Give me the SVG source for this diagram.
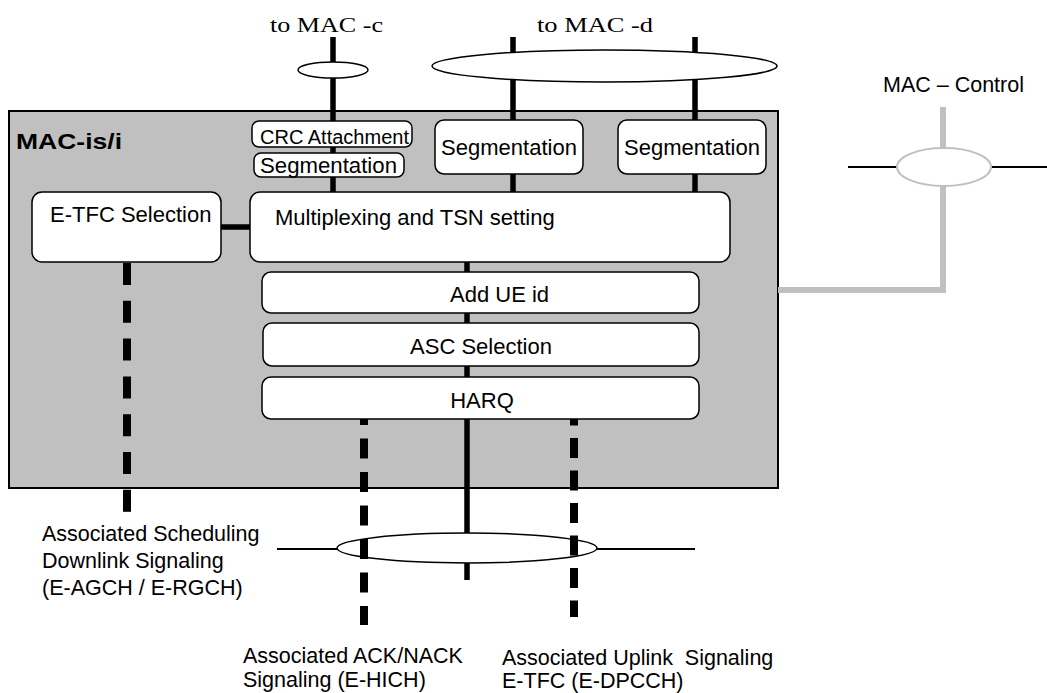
<svg xmlns="http://www.w3.org/2000/svg" width="1047" height="693" viewBox="0 0 1047 693">
<style>
.t{font-family:"Liberation Sans",Arial,sans-serif;font-size:22px;fill:#000}
.s20{font-size:20px}
.s21{font-size:21.5px}
.b{font-weight:bold}
.m{text-anchor:middle}
.ts{font-family:"Liberation Serif","Times New Roman",serif;font-size:22px;fill:#000}
.box{fill:#fff;stroke:#000;stroke-width:1.5}
.thick{stroke:#000;stroke-width:5.5;fill:none}
.dash{stroke:#000;stroke-width:8;fill:none}
.thin{stroke:#000;stroke-width:2;fill:none}
.gray{stroke:#c0c0c0;stroke-width:6;fill:none}
.ell{fill:#fff;stroke:#000;stroke-width:1.5}
</style>
<rect id="mac-is-i" x="9" y="111" width="769" height="377" fill="#c0c0c0" stroke="#000" stroke-width="2"/>
<text class="t b" x="16" y="149" textLength="106" lengthAdjust="spacingAndGlyphs">MAC-is/i</text>
<g id="connectors">
<line class="thick" x1="333" y1="37" x2="333" y2="192"/>
<line class="thick" x1="513" y1="37" x2="513" y2="192"/>
<line class="thick" x1="695" y1="37" x2="695" y2="192"/>
<line class="thick" x1="221" y1="227" x2="250" y2="227"/>
<line class="thick" x1="467" y1="262" x2="467" y2="580"/>
<line class="gray" x1="943" y1="107" x2="943" y2="290"/>
<line class="gray" x1="778" y1="290" x2="946" y2="290"/>
<line class="thin" x1="848" y1="167" x2="897" y2="167"/>
<line class="thin" x1="991" y1="167" x2="1047" y2="167"/>
<line class="thin" x1="277" y1="549" x2="337" y2="549"/>
<line class="thin" x1="597" y1="549" x2="695" y2="549"/>
<ellipse class="ell" cx="333" cy="70" rx="35" ry="8"/>
<ellipse class="ell" cx="604.5" cy="66" rx="172.5" ry="16"/>
<ellipse cx="944" cy="167" rx="47" ry="19" fill="#fff" stroke="#c0c0c0" stroke-width="2"/>
<ellipse class="ell" cx="467" cy="548" rx="130" ry="15"/>
<line class="dash" x1="127" y1="263" x2="127" y2="512" stroke-dasharray="22 15.8"/>
<line class="dash" x1="364" y1="405" x2="364" y2="625" stroke-dasharray="20 13.5"/>
<line class="dash" x1="574" y1="405.5" x2="574" y2="617" stroke-dasharray="20 12.5"/>
</g>
<g id="to-mac-c"><text class="ts" x="270" y="32" textLength="113" lengthAdjust="spacingAndGlyphs">to MAC -c</text></g>
<g id="to-mac-d"><text class="ts" x="537" y="32" textLength="116" lengthAdjust="spacingAndGlyphs">to MAC -d</text></g>
<g id="mac-control"><text class="t s21" x="883" y="92">MAC – Control</text></g>
<g id="crc"><rect class="box" x="252" y="121" width="160" height="26" rx="7"/><text class="t s20" x="260" y="144">CRC Attachment</text></g>
<g id="seg-c"><rect class="box" x="254" y="153" width="150" height="24" rx="7"/><text class="t" x="260" y="173" textLength="137" lengthAdjust="spacingAndGlyphs">Segmentation</text></g>
<g id="seg-d1"><rect class="box" x="435" y="120" width="148" height="54" rx="9"/><text class="t m" x="509" y="155">Segmentation</text></g>
<g id="seg-d2"><rect class="box" x="618" y="120" width="148" height="54" rx="9"/><text class="t m" x="692" y="155">Segmentation</text></g>
<g id="etfc"><rect class="box" x="32" y="192" width="189" height="70" rx="10"/><text class="t" x="50" y="222">E-TFC Selection</text></g>
<g id="mux"><rect class="box" x="250" y="192" width="480" height="70" rx="10"/><text class="t" x="275" y="225">Multiplexing and TSN setting</text></g>
<g id="ueid"><rect class="box" x="262" y="272" width="437" height="41" rx="9"/><text class="t" x="450" y="302">Add UE id</text></g>
<g id="asc"><rect class="box" x="263" y="323" width="436" height="43" rx="9"/><text class="t m" x="481" y="354">ASC Selection</text></g>
<g id="harq"><rect class="box" x="262" y="377" width="437" height="42" rx="9"/><text class="t m" x="482" y="408">HARQ</text></g>
<g id="sched-label"><text class="t s21" x="42" y="541">Associated Scheduling</text><text class="t s21" x="42" y="568">Downlink Signaling</text><text class="t s21" x="42" y="595">(E-AGCH / E-RGCH)</text></g>
<g id="ack-label"><text class="t s21" x="243" y="663">Associated ACK/NACK</text><text class="t s21" x="243" y="687">Signaling (E-HICH)</text></g>
<g id="uplink-label"><text class="t s21" x="502" y="665" xml:space="preserve">Associated Uplink  Signaling</text><text class="t s21" x="502" y="688">E-TFC (E-DPCCH)</text></g>
</svg>
